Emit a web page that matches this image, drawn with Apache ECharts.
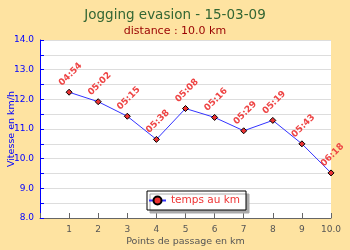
<!DOCTYPE html>
<html><head><meta charset="utf-8">
<script src="https://cdn.jsdelivr.net/npm/echarts@6/dist/echarts.min.js"></script>
<style>html,body{margin:0;padding:0;background:#FEE3A1}#c{width:350px;height:250px}</style>
</head><body><div id="c"></div>
<script>
const kmPoints = [1, 2, 3, 4, 5, 6, 7, 8, 9, 10];
const speeds = [12.24, 11.92, 11.43, 10.65, 11.69, 11.39, 10.94, 11.29, 10.50, 9.52];
const paceLabels = ['04:54', '05:02', '05:15', '05:38', '05:08', '05:16', '05:29', '05:19', '05:43', '06:18'];
const titleText = 'Jogging evasion - 15-03-09';
const subText = 'distance : 10.0 km';
const seriesName = 'temps au km';

const chart = echarts.init(document.getElementById('c'), null, {renderer: 'canvas'});
chart.setOption({
  backgroundColor: '#FEE3A1',
  animation: false,
  textStyle: {fontFamily: 'DejaVu Sans'},
  title: {
    text: titleText, subtext: subText, left: 'center', top: 3, itemGap: 4,
    textStyle: {color: '#336633', fontSize: 13.5, fontWeight: 'normal', fontFamily: 'DejaVu Sans'},
    subtextStyle: {color: '#990000', fontSize: 11, fontFamily: 'DejaVu Sans'}
  },
  grid: {left: 40, right: 19, top: 40, bottom: 32, show: true, backgroundColor: '#fff', borderWidth: 0,
    outerBoundsMode: 'none', containLabel: false},
  legend: {
    left: 147, top: 191, height: 19,
    padding: [4, 6, 4, 1],
    backgroundColor: '#fff', borderColor: '#000', borderWidth: 1,
    shadowColor: '#aaa', shadowOffsetX: 3, shadowOffsetY: 3, shadowBlur: 0,
    itemWidth: 17, itemHeight: 10,
    textStyle: {color: '#ee3333', fontSize: 10.5, fontFamily: 'DejaVu Sans'},
    data: [seriesName]
  },
  xAxis: {
    type: 'value', min: 0, max: 10, interval: 1,
    name: 'Points de passage en km', nameLocation: 'middle', nameGap: 19, nameMoveOverlap: false,
    nameTextStyle: {color: '#555', fontSize: 9.5},
    axisLine: {show: true, lineStyle: {color: '#666'}},
    axisTick: {show: true, inside: true, length: 5, lineStyle: {color: '#666'}},
    axisLabel: {color: '#555', fontSize: 9, margin: 7,
      formatter: v => v === 0 ? '' : (v === 10 ? '10.0' : String(v))},
    splitLine: {show: false}
  },
  yAxis: {
    type: 'value', min: 8, max: 14, interval: 0.5,
    name: 'Vitesse en km/h', nameLocation: 'middle', nameGap: 23, nameMoveOverlap: false,
    nameTextStyle: {color: '#0000ff', fontSize: 9.5},
    axisLine: {show: true, lineStyle: {color: '#0000ff'}},
    axisTick: {show: true, inside: true, length: 4, lineStyle: {color: '#0000ff'}},
    axisLabel: {color: '#0000ff', fontSize: 9, margin: 6,
      formatter: v => (Math.abs(v % 1) < 1e-9) ? v.toFixed(1) : ''},
    splitLine: {show: true, lineStyle: {color: '#dddddd', width: 1}}
  },
  series: [{
    name: seriesName, type: 'line', data: [],
    symbol: 'circle', symbolSize: 8,
    lineStyle: {color: '#3333ff', width: 1},
    itemStyle: {color: '#ee3333', borderColor: '#000', borderWidth: 1.5}
  }, {
    name: seriesName, type: 'line',
    data: kmPoints.map((k, i) => [k, speeds[i]]),
    symbol: 'diamond', symbolSize: 6,
    lineStyle: {color: '#3333ff', width: 1},
    itemStyle: {color: '#ee3333', borderColor: '#000', borderWidth: 1},
    label: {
      show: true, position: 'top', distance: 13, offset: [2, 0], rotate: 45,
      align: 'center', verticalAlign: 'middle',
      color: '#ee4444', fontSize: 9, fontWeight: 'bold',
      formatter: p => paceLabels[p.dataIndex]
    }
  }]
});
</script></body></html>
